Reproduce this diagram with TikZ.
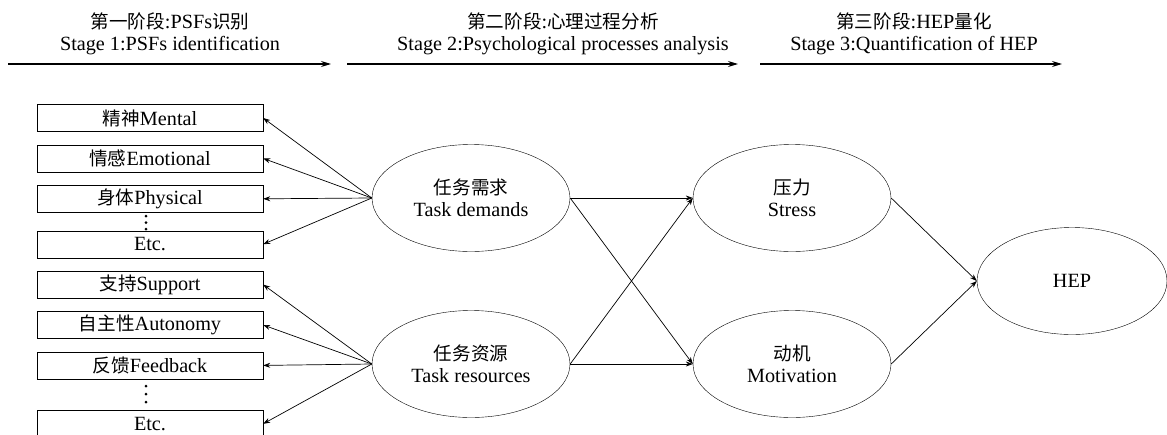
\documentclass[tikz,border=0pt]{standalone}
\usepackage{fontspec}
\setmainfont{Liberation Serif}
\newfontfamily\cjk[Scale=0.92]{Noto Sans CJK SC}
\newcommand{\zh}[1]{{\cjk #1}}
\usepackage{tikz}
\usetikzlibrary{arrows.meta,positioning,shapes.geometric}

\begin{document}
\begin{tikzpicture}[
  x=1pt, y=-1pt,
  font=\fontsize{20.2}{22.5}\selectfont,
  node distance=13pt,
  factor/.style={draw, minimum width=226pt, minimum height=27pt, inner sep=0pt},
  latent/.style={draw, ellipse, minimum width=198pt, minimum height=107pt, align=center, inner sep=0pt},
  stage/.style={align=center},
  arr/.style={-{Stealth[length=7pt, width=5pt]}, line width=0.7pt},
  stagearr/.style={-{Stealth[length=10pt, width=6pt]}, line width=1.2pt}
]
  \useasboundingbox (0,0) rectangle (1167,434);

  % stages
  \node[stage] (st1) at (170,34) {\zh{第一阶段}:PSFs\zh{识别}\\Stage 1:PSFs identification};
  \node[stage] (st2) at (563,34) {\zh{第二阶段}:\zh{心理过程分析}\\Stage 2:Psychological processes analysis};
  \node[stage] (st3) at (914,34) {\zh{第三阶段}:HEP\zh{量化}\\Stage 3:Quantification of HEP};
  \coordinate (s1a) at (8,64);    \coordinate (s1b) at (331,64);
  \coordinate (s2a) at (347,64);  \coordinate (s2b) at (738,64);
  \coordinate (s3a) at (760,64);  \coordinate (s3b) at (1062,64);
  \draw[stagearr] (s1a) -- (s1b);
  \draw[stagearr] (s2a) -- (s2b);
  \draw[stagearr] (s3a) -- (s3b);

  % PSFs
  \node[factor] (mental) at (150,118) {\zh{精神}Mental};
  \node[factor, below=of mental] (emotional) {\zh{情感}Emotional};
  \node[factor, below=of emotional] (physical) {\zh{身体}Physical};
  \node[factor, below=18pt of physical] (etc1) {Etc.};
  \node[factor, below=of etc1] (support) {\zh{支持}Support};
  \node[factor, below=of support] (autonomy) {\zh{自主性}Autonomy};
  \node[factor, below=of autonomy] (feedback) {\zh{反馈}Feedback};
  \node[factor, below=31pt of feedback] (etc2) {Etc.};
  % vertical dots
  \foreach \y in {216,222.5,229}
    \fill (146,\y) circle (1.5pt);
  \foreach \y in {386,394,402}
    \fill (146,\y) circle (1.5pt);

  % latent variables
  \node[latent] (demands) at (471,198) {\zh{任务需求}\\Task demands};
  \node[latent] (resources) at (471,364) {\zh{任务资源}\\Task resources};
  \node[latent] (stress) at (792,198) {\zh{压力}\\Stress};
  \node[latent] (motivation) at (792,364) {\zh{动机}\\Motivation};
  \node[latent, minimum width=190pt] (hep) at (1072,281) {HEP};

  \foreach \f in {mental,emotional,physical,etc1}
    \draw[arr] (demands.west) -- (\f.east);
  \foreach \f in {support,autonomy,feedback,etc2}
    \draw[arr] (resources.west) -- (\f.east);

  \draw[arr] (demands.east) -- (stress.west);
  \draw[arr] (demands.east) -- (motivation.west);
  \draw[arr] (resources.east) -- (stress.west);
  \draw[arr] (resources.east) -- (motivation.west);
  \draw[arr] (stress.east) -- (hep.west);
  \draw[arr] (motivation.east) -- (hep.west);
\end{tikzpicture}
\end{document}
